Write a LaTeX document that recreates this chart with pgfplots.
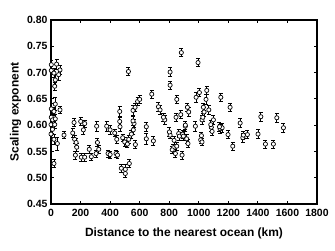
\documentclass[border=0pt]{standalone}
\usepackage{fontspec}
\setmainfont{Liberation Sans}
\usepackage{pgfplots}
\pgfplotsset{compat=1.18}
\usepackage{pgfplotstable}

\pgfplotstableread{
x y e
2 0.715 0.009
38 0.716 0.010
2 0.704 0.008
20 0.699 0.009
52 0.696 0.010
61 0.705 0.009
29 0.686 0.010
25 0.674 0.008
29 0.640 0.012
2 0.631 0.010
61 0.629 0.007
20 0.626 0.008
2 0.615 0.007
11 0.610 0.008
29 0.612 0.008
0 0.601 0.007
25 0.601 0.008
10 0.592 0.008
0 0.583 0.007
20 0.573 0.010
43 0.565 0.012
20 0.527 0.008
88 0.581 0.007
147 0.585 0.008
156 0.605 0.007
160 0.573 0.008
170 0.567 0.008
174 0.558 0.007
165 0.543 0.008
201 0.607 0.007
228 0.603 0.007
219 0.591 0.009
205 0.539 0.007
228 0.539 0.007
259 0.554 0.007
273 0.540 0.007
305 0.546 0.007
314 0.567 0.008
323 0.554 0.007
309 0.598 0.009
377 0.598 0.009
386 0.546 0.007
400 0.544 0.007
400 0.591 0.008
431 0.585 0.007
445 0.573 0.008
440 0.546 0.007
450 0.543 0.007
476 0.518 0.008
503 0.516 0.009
503 0.508 0.008
530 0.527 0.008
467 0.597 0.008
485 0.576 0.007
499 0.568 0.008
517 0.564 0.007
526 0.573 0.007
544 0.583 0.008
557 0.591 0.008
571 0.563 0.008
562 0.603 0.008
465 0.626 0.009
465 0.607 0.008
524 0.702 0.008
555 0.628 0.009
555 0.608 0.008
569 0.634 0.008
586 0.645 0.008
600 0.649 0.008
645 0.597 0.008
645 0.574 0.010
693 0.570 0.008
682 0.659 0.008
727 0.635 0.008
763 0.615 0.008
738 0.629 0.008
770 0.610 0.008
806 0.581 0.007
801 0.587 0.008
828 0.557 0.007
842 0.546 0.008
820 0.553 0.007
851 0.560 0.007
833 0.571 0.007
864 0.584 0.008
869 0.579 0.007
887 0.543 0.008
891 0.583 0.008
896 0.579 0.007
909 0.598 0.009
918 0.574 0.008
927 0.565 0.008
977 0.598 0.010
1013 0.572 0.007
1022 0.568 0.007
1018 0.580 0.007
1022 0.610 0.008
1085 0.596 0.008
1090 0.588 0.008
1144 0.593 0.008
1158 0.595 0.008
1198 0.582 0.008
1230 0.560 0.007
1280 0.604 0.008
1298 0.576 0.009
1302 0.581 0.008
1329 0.582 0.008
1401 0.583 0.009
1451 0.564 0.008
1505 0.564 0.008
1573 0.595 0.008
1528 0.614 0.008
882 0.738 0.008
995 0.719 0.008
806 0.701 0.009
806 0.676 0.008
851 0.649 0.008
982 0.653 0.009
1004 0.662 0.008
1054 0.666 0.008
1049 0.649 0.009
1149 0.653 0.008
1212 0.634 0.008
923 0.634 0.008
932 0.625 0.009
1031 0.634 0.008
1036 0.625 0.008
1068 0.629 0.008
1027 0.615 0.008
1099 0.610 0.008
1081 0.601 0.008
1140 0.597 0.008
846 0.615 0.008
878 0.620 0.008
761 0.615 0.008
909 0.600 0.008
1420 0.616 0.008
}\pts

\begin{document}
\begin{tikzpicture}
\useasboundingbox (0,0) rectangle (335bp,251bp);
\begin{axis}[
  at={(51bp,47bp)},
  anchor=south west,
  scale only axis,
  width=266bp,
  height=184bp,
  xmin=0, xmax=1800,
  ymin=0.45, ymax=0.80,
  xtick={0,200,...,1800},
  ytick={0.45,0.50,...,0.80},
  xticklabel style={/pgf/number format/1000 sep={}, yshift=-2bp},
  yticklabel style={/pgf/number format/.cd,fixed,fixed zerofill,precision=2},
  /pgf/number format/assume math mode=true,
  tick align=inside,
  major tick length=3bp,
  axis line style={line width=1.2pt},
  every tick/.style={black,line width=0.8pt},
  ticklabel style={font=\fontsize{10.5}{11}\selectfont\bfseries},
  label style={font=\fontsize{12}{13}\selectfont\bfseries},
  xlabel={Distance to the nearest ocean (km)},
  ylabel={Scaling exponent},
  xlabel style={yshift=-4bp},
  ylabel style={yshift=-1bp},
  scaled y ticks=false,
]
\addplot[only marks, mark=*, mark size=2.1pt, black, line width=0.7pt,
  mark options={fill=white},
  error bars/.cd, y dir=both, y explicit,
  error bar style={line width=0.7pt},
  error mark options={rotate=90, mark size=2pt, line width=0.7pt}]
  table[x=x, y=y, y error=e] {\pts};
\end{axis}
\end{tikzpicture}
\end{document}
